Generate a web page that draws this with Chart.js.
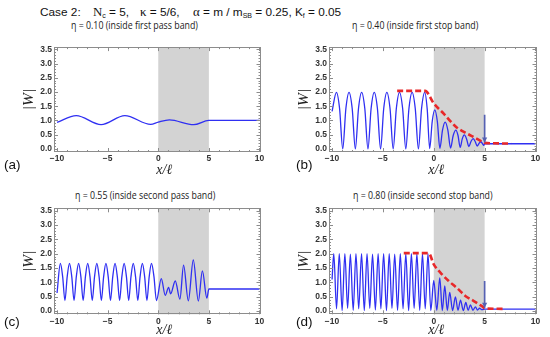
<!DOCTYPE html>
<html><head><meta charset="utf-8">
<script src="https://cdn.jsdelivr.net/npm/chart.js@4.4.1/dist/chart.umd.min.js"></script>
<style>
html,body{margin:0;padding:0;background:#fff;}
body{width:550px;height:337px;position:relative;overflow:hidden;font-family:"Liberation Sans",Arial,sans-serif;color:#111;}
.pn{position:absolute;}
.pt{position:absolute;font-family:"Open Sans",sans-serif;font-size:10px;line-height:12px;color:#222;white-space:nowrap;transform:scaleX(0.88);transform-origin:0 50%;}
.lab{position:absolute;font-family:"Liberation Sans",sans-serif;font-size:13.5px;line-height:16px;color:#111;}
.tt{position:absolute;top:4px;font-size:11.8px;line-height:16px;white-space:nowrap;color:#111;}
.sf{font-family:"Liberation Serif",serif;font-size:12.8px;}
.tt sub{font-size:7px;vertical-align:-2px;line-height:0;}
</style></head><body>
<div class="tt" style="left:40px">Case 2:</div>
<div class="tt" style="left:93px"><span class="sf">N</span><sub>c</sub> = 5,</div>
<div class="tt" style="left:140px"><span class="sf">κ</span> = 5/6,</div>
<div class="tt" style="left:193px"><span class="sf">α</span> = m / m<sub>SB</sub> = 0.25, K<sub>f</sub> = 0.05</div>

<div class="pt" style="left:71px;top:19px">η = 0.10 (inside first pass band)</div>
<div class="pt" style="left:352px;top:19px">η = 0.40 (inside first stop band)</div>
<div class="pt" style="left:75px;top:189px">η = 0.55 (inside second pass band)</div>
<div class="pt" style="left:353px;top:189px">η = 0.80 (inside second stop band)</div>

<canvas id="ca" class="pn" width="275" height="140" style="left:0;top:40px"></canvas>
<canvas id="cb" class="pn" width="275" height="140" style="left:275px;top:40px"></canvas>
<canvas id="cc" class="pn" width="275" height="157" style="left:0;top:180px"></canvas>
<canvas id="cd" class="pn" width="275" height="157" style="left:275px;top:180px"></canvas>

<div class="lab" style="left:4px;top:157px">(a)</div>
<div class="lab" style="left:296px;top:157px">(b)</div>
<div class="lab" style="left:4px;top:314px">(c)</div>
<div class="lab" style="left:296px;top:314px">(d)</div>

<script>
// ---------- data ----------
const xTickValues = [-10, -5, 0, 5, 10];
const yTickValues = [0, 0.5, 1.0, 1.5, 2.0, 2.5, 3.0, 3.5];
const shadeRange = [0, 5];

// (a) eta = 0.10
const xA = [-10, -8.1, -5.65, -3.3, -0.75, 0, 1.1, 3.5, 5, 10];
const yA = [0.93, 1.17, 0.85, 1.17, 0.86, 0.94, 1.02, 0.85, 1.0, 1.0];

// (b) eta = 0.40
const xB = [-10,
  -9.57, -9.26, -8.95, -8.64,
  -8.33, -8.02, -7.71, -7.40,
  -7.09, -6.78, -6.47, -6.16,
  -5.85, -5.54, -5.23, -4.92,
  -4.61, -4.30, -3.99, -3.68,
  -3.37, -3.06, -2.75, -2.44,
  -2.13, -1.82, -1.51, -1.20,
  -0.89, -0.645, -0.4, -0.15,
  0.1, 0.35, 0.6, 0.86,
  1.12, 1.385, 1.65, 1.91,
  2.17, 2.385, 2.6, 2.8,
  3.0, 3.225, 3.45, 3.66,
  3.87, 4.07, 4.27, 4.45,
  4.63, 4.78, 4.92, 5, 10];
const yB = [1.32,
  1.99, 1.42, 0, 1.42,
  1.99, 1.42, 0, 1.42,
  1.99, 1.42, 0, 1.42,
  1.99, 1.42, 0, 1.42,
  1.99, 1.42, 0, 1.42,
  1.99, 1.42, 0, 1.42,
  1.99, 1.42, 0, 1.42,
  1.99, 1.4, 0.01, 0.97,
  1.37, 0.97, 0.02, 0.66,
  0.94, 0.66, 0.03, 0.47,
  0.66, 0.47, 0.05, 0.35,
  0.49, 0.35, 0.08, 0.26,
  0.36, 0.26, 0.1, 0.19,
  0.25, 0.19, 0.12, 0.18, 0.18];
const xRedB = [-3.6, -0.85, 0, 1.0, 2.2, 3.0, 3.9, 4.6, 5.0, 7.6];
const yRedB = [2.04, 2.04, 1.6, 1.23, 0.77, 0.59, 0.42, 0.28, 0.21, 0.19];
const xArrowB = [5, 5];
const yArrowB = [1.2, 0.22];

// (c) eta = 0.55
const xC = [-10,
  -9.67, -9.445, -9.22, -8.995,
  -8.77, -8.545, -8.32, -8.095,
  -7.87, -7.645, -7.42, -7.195,
  -6.97, -6.745, -6.52, -6.295,
  -6.07, -5.845, -5.62, -5.395,
  -5.17, -4.945, -4.72, -4.495,
  -4.27, -4.045, -3.82, -3.595,
  -3.37, -3.145, -2.92, -2.695,
  -2.47, -2.245, -2.02, -1.795,
  -1.57, -1.345, -1.12, -0.895,
  -0.67, -0.425, -0.18,
  0.3, 0.69, 1.02, 1.22, 1.68, 2.14, 2.5, 2.97, 3.46, 3.96, 4.36, 4.8, 5, 10];
const yC = [0.63,
  1.66, 1.2, 0.37, 1.2,
  1.66, 1.2, 0.37, 1.2,
  1.66, 1.2, 0.37, 1.2,
  1.66, 1.2, 0.37, 1.2,
  1.66, 1.2, 0.37, 1.2,
  1.66, 1.2, 0.37, 1.2,
  1.66, 1.2, 0.37, 1.2,
  1.66, 1.2, 0.37, 1.2,
  1.66, 1.2, 0.37, 1.2,
  1.66, 1.2, 0.37, 1.2,
  1.66, 1.2, 0.37,
  1.13, 0.55, 0.83, 0.6, 1.05, 0.42, 1.6, 0.36, 1.78, 0.35, 1.4, 0.45, 0.77, 0.77];

// (d) eta = 0.80
const xD = [-10, -9.83, -9.56, -9.29, -9.01, -8.74, -8.47, -8.2, -7.92, -7.65, -7.38, -7.1, -6.83, -6.56, -6.29, -6.02, -5.74, -5.47, -5.2, -4.93, -4.65, -4.38, -4.11, -3.84, -3.56, -3.29, -3.02, -2.75, -2.47, -2.2, -1.93, -1.66, -1.38, -1.11, -0.84, -0.57, -0.29, 0.0, 0.3, 0.59, 0.84, 1.08, 1.33, 1.57, 1.85, 2.13, 2.38, 2.63, 2.9, 3.15, 3.38, 3.6, 3.85, 4.1, 4.3, 4.5, 4.75, 5, 10];
const yD = [1.1, 2.0, 0.08, 2.0, 0.02, 2.0, 0.1, 1.98, 0.03, 2.0, 0.08, 2.0, 0.02, 2.0, 0.1, 1.98, 0.04, 2.0, 0.08, 2.0, 0.02, 2.0, 0.1, 1.98, 0.03, 2.0, 0.08, 2.0, 0.02, 2.0, 0.1, 2.0, 0.03, 2.0, 0.08, 2.0, 0.02, 1.07, 0.03, 1.16, 0.02, 0.88, 0.03, 0.65, 0.02, 0.5, 0.03, 0.38, 0.02, 0.3, 0.03, 0.22, 0.03, 0.15, 0.04, 0.1, 0.05, 0.07, 0.07];
const xRedD = [-2.95, -0.5, 0, 0.65, 1.47, 2.3, 3.1, 3.9, 4.7, 5.1, 7.0];
const yRedD = [2.02, 2.02, 1.63, 1.34, 1.05, 0.8, 0.53, 0.36, 0.18, 0.09, 0.08];
const xArrowD = [5, 5];
const yArrowD = [1.05, 0.12];

// ---------- helpers ----------
const pts = (xs, ys) => xs.map((x, i) => ({x, y: ys[i]}));
const BLUE = '#2f2ff2', RED = '#e8282a', ARROW = '#5561b3', FRAME = '#8c8c8c';

const framePlugin = {
  id: 'frame',
  beforeDatasetsDraw(chart) {
    const {ctx, chartArea: a, scales: {x}} = chart;
    const x0 = x.getPixelForValue(shadeRange[0]), x1 = x.getPixelForValue(shadeRange[1]);
    ctx.save();
    ctx.fillStyle = '#d3d3d3';
    ctx.fillRect(x0, a.top, x1 - x0, a.bottom - a.top);
    ctx.restore();
  },
  afterDatasetsDraw(chart) {
    const {ctx, chartArea: a, scales: {x, y}} = chart;
    ctx.save();
    chart.data.datasets.forEach((ds, i) => {
      if (!ds.arrow) return;
      const el = chart.getDatasetMeta(i).data;
      const p = el[el.length - 1];
      ctx.fillStyle = ds.borderColor;
      ctx.beginPath();
      ctx.moveTo(p.x, p.y);
      ctx.lineTo(p.x - 2.6, p.y - 5);
      ctx.lineTo(p.x + 2.6, p.y - 5);
      ctx.closePath();
      ctx.fill();
    });
    ctx.strokeStyle = FRAME;
    ctx.lineWidth = 1;
    ctx.strokeRect(Math.round(a.left) + 0.5, Math.round(a.top) + 0.5, Math.round(a.right - a.left) - 1, Math.round(a.bottom - a.top) - 1);
    ctx.beginPath();
    for (let v = -10; v <= 10; v++) {
      const px = Math.round(x.getPixelForValue(v)) + 0.5;
      const len = (v % 5 === 0) ? 4 : 2;
      ctx.moveTo(px, a.bottom); ctx.lineTo(px, a.bottom - len);
      ctx.moveTo(px, a.top); ctx.lineTo(px, a.top + len);
    }
    for (let k = 0; k <= 35; k++) {
      const py = Math.round(y.getPixelForValue(k / 10)) + 0.5;
      const len = (k % 5 === 0) ? 4 : 2;
      ctx.moveTo(a.left, py); ctx.lineTo(a.left + len, py);
      ctx.moveTo(a.right, py); ctx.lineTo(a.right - len, py);
    }
    ctx.stroke();
    ctx.restore();
  }
};

function makeChart(id, datasets, xTitle, cfg) {
  const tickFont = {family: '"Liberation Sans", Arial, sans-serif', size: 8.5, weight: 'bold'};
  return new Chart(document.getElementById(id), {
    type: 'line',
    data: {datasets},
    plugins: [framePlugin],
    options: {
      responsive: false, animation: false, devicePixelRatio: 1,
      layout: {padding: {top: cfg.top, right: cfg.right, left: 0, bottom: 0}},
      plugins: {legend: {display: false}, tooltip: {enabled: false}},
      elements: {point: {radius: 0}},
      scales: {
        x: {
          type: 'linear', min: -10.3, max: 10.1,
          afterFit: s => { s.height = cfg.xh; },
          afterBuildTicks: s => { s.ticks = xTickValues.map(v => ({value: v})); },
          grid: {display: false, drawTicks: false},
          border: {display: false},
          ticks: {padding: 2, color: '#333', font: tickFont, maxRotation: 0,
                  callback: v => (v < 0 ? '\u2212' + Math.abs(v) : String(v))},
          title: {display: true, text: xTitle, color: '#222',
                  font: {family: '"Liberation Serif", serif', style: 'italic', size: 14},
                  padding: {top: 0, bottom: cfg.xtb}}
        },
        y: {
          type: 'linear', min: -0.11, max: 3.58,
          afterFit: s => { s.width = 54; },
          afterBuildTicks: s => { s.ticks = yTickValues.map(v => ({value: v})); },
          grid: {display: false, drawTicks: false},
          border: {display: false},
          ticks: {padding: 2, color: '#333', font: tickFont, callback: v => v.toFixed(1)},
          title: {display: true, text: '|W|', color: '#222',
                  font: {family: '"Liberation Serif", serif', style: 'italic', size: 15.5},
                  padding: {top: 20, bottom: 0}}
        }
      }
    }
  });
}

const blue = (xs, ys) => ({data: pts(xs, ys), borderColor: BLUE, borderWidth: 1.3, cubicInterpolationMode: 'monotone', order: 3});
const red = (xs, ys) => ({data: pts(xs, ys), borderColor: RED, borderWidth: 2.6, borderDash: [6, 3], cubicInterpolationMode: 'monotone', order: 2});
const arrow = (xs, ys) => ({data: pts(xs, ys), borderColor: ARROW, borderWidth: 1.7, arrow: true, order: 1});

const topCfg = {top: 6, right: 14.5, xh: 28, xtb: 0.8};
const botCfg = {top: 28.3, right: 14.5, xh: 22.7, xtb: -2};

makeChart('ca', [blue(xA, yA)], '\u2002\u2002x/\u2113', topCfg);
makeChart('cb', [blue(xB, yB), red(xRedB, yRedB), arrow(xArrowB, yArrowB)], '\u2002x/\u2113', {...topCfg, right: 13.5});
makeChart('cc', [blue(xC, yC)], '\u2002\u2002x/\u2113', botCfg);
makeChart('cd', [blue(xD, yD), red(xRedD, yRedD), arrow(xArrowD, yArrowD)], '\u2002x/\u2113', {...botCfg, right: 13.5});
</script>
</body></html>
